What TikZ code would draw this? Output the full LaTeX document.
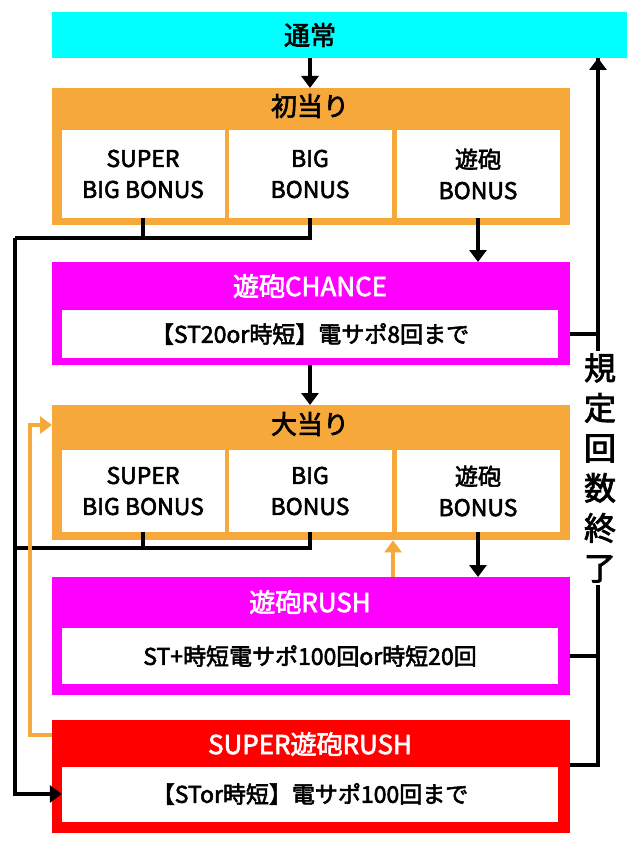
\documentclass[tikz,border=0pt]{standalone}
\usepackage{fontspec}
\setmainfont[AutoFakeBold=2.5]{Noto Sans CJK JP}
\usetikzlibrary{arrows.meta}
\definecolor{pcyan}{HTML}{00FFFF}
\definecolor{porange}{HTML}{F7A83A}
\definecolor{pmagenta}{HTML}{FF00FF}
\definecolor{pred}{HTML}{FF0000}
\tikzset{
  frame/.style={draw=none, rectangle, anchor=north west, inner sep=0pt},
  cell/.style={fill=white, rectangle, inner sep=0pt, align=center, font=\bfseries\fontsize{23}{31}\selectfont, text=black},
  title/.style={font=\bfseries\fontsize{26}{28}\selectfont},
  flow/.style={line width=4.5pt, -{Triangle[length=12pt,width=17pt]}},
  link/.style={line width=4.5pt},
}
\begin{document}
\begin{tikzpicture}[x=1pt, y=-1pt]
  \useasboundingbox (0,0) rectangle (639,853);
  % top
  \node[frame, fill=pcyan, minimum width=575pt, minimum height=46pt] (top) at (52,12) {};
  \node[title] (toptext) at (310,35) {通常};

  % first hit
  \node[frame, fill=porange, minimum width=518pt, minimum height=137pt] (first) at (52,88) {};
  \node[title] (firsttext) at (310,106) {初当り};
  \node[cell, minimum width=163pt, minimum height=88pt] (f1) at (143,174) {SUPER\\BIG BONUS};
  \node[cell, minimum width=163pt, minimum height=88pt] (f2) at (310,174) {BIG\\BONUS};
  \node[cell, minimum width=163pt, minimum height=88pt] (f3) at (478,174) {遊砲\\BONUS};

  % chance
  \node[frame, fill=pmagenta, minimum width=518pt, minimum height=103pt] (chance) at (52,262) {};
  \node[title, text=white] (chancetext) at (310,286) {遊砲CHANCE};
  \node[cell, minimum width=496pt, minimum height=48pt] (chancebox) at (310,334) {【ST20or時短】電サポ8回まで};

  % big hit
  \node[frame, fill=porange, minimum width=518pt, minimum height=135pt] (big) at (52,405) {};
  \node[title] (bigtext) at (310,424) {大当り};
  \node[cell, minimum width=163pt, minimum height=82pt] (b1) at (143,491) {SUPER\\BIG BONUS};
  \node[cell, minimum width=163pt, minimum height=82pt] (b2) at (310,491) {BIG\\BONUS};
  \node[cell, minimum width=163pt, minimum height=82pt] (b3) at (478,491) {遊砲\\BONUS};

  % rush
  \node[frame, fill=pmagenta, minimum width=518pt, minimum height=118pt] (rush) at (52,577) {};
  \node[title, text=white] (rushtext) at (310,602) {遊砲RUSH};
  \node[cell, minimum width=496pt, minimum height=56pt] (rushbox) at (310,656) {ST+時短電サポ100回or時短20回};

  % super rush
  \node[frame, fill=pred, minimum width=518pt, minimum height=113pt] (super) at (52,720) {};
  \node[title, text=white] (supertext) at (310,744) {SUPER遊砲RUSH};
  \node[cell, minimum width=496pt, minimum height=55pt] (superbox) at (310,794) {【STor時短】電サポ100回まで};

  % arrows
  \draw[flow] (top.south -| toptext) -- (first.north -| toptext);
  \draw[flow] (f3.south) -- (chance.north -| f3);
  \draw[flow] (chance.south -| toptext) -- (big.north -| toptext);
  \draw[flow] (b3.south) -- (rush.north -| b3);
  \draw[link] (f1.south) -- ++(0,20) coordinate (fl);
  \draw[link] (f2.south) |- (fl) -- (fl -| 15,0) coordinate (lc);
  \draw[link] (b1.south) -- ++(0,16) coordinate (bl);
  \draw[link] (b2.south) |- (bl) -- (bl -| 15,0);
  \draw[flow] (lc) |- (superbox.west);
  % orange
  \draw[line width=4.5pt, porange, -{Triangle[length=12pt,width=17pt]}] (rush.north -| 393,0) -- (big.south -| 393,0);
  \draw[line width=4.5pt, porange, -{Triangle[length=12pt,width=17pt]}] (super.north west) ++(0,15) -- (30,735) |- (52,425);
  % right side
  \coordinate (rc) at (598,58);
  \draw[link] (chance.east |- chancebox) -| (rc);
  \draw[link] (rush.east |- rushbox) -| (598,560);
  \draw[link] (super.north east) ++(0,45) -| (598,560);
  \draw[flow] (598,360) -- (rc);
  \node[fill=white, inner sep=2pt, align=center, font=\bfseries\fontsize{32}{40}\selectfont] (endlabel) at (600,468) {規\\定\\回\\数\\終\\了};
\end{tikzpicture}
\end{document}
